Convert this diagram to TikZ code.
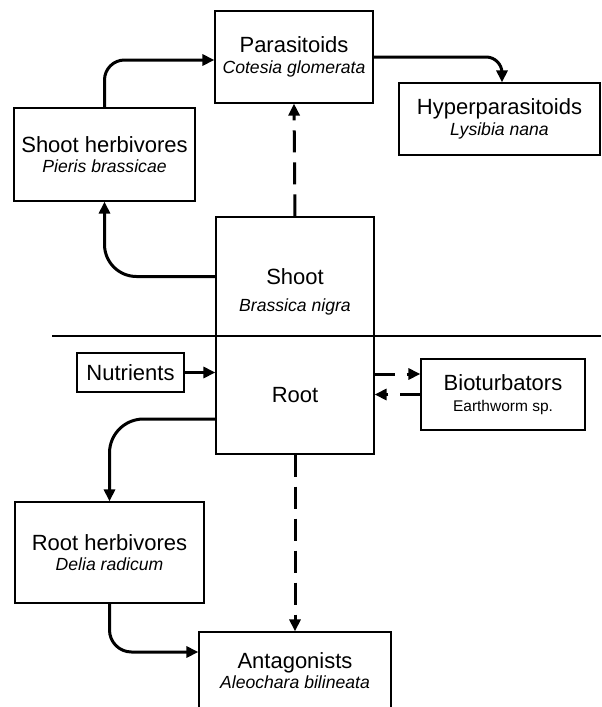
\documentclass[tikz,border=0pt]{standalone}
\usepackage{fontspec}
\setmainfont{Liberation Sans}
\usetikzlibrary{arrows.meta,calc}
\tikzset{
  box/.style   ={draw,line width=0.6pt,align=center,inner sep=0pt,
                 font=\fontsize{11}{10.3}\selectfont},
  plain/.style ={inner sep=0pt,align=center},
  ar/.style    ={-{Triangle[length=6pt,width=5.5pt]},line width=1.5pt},
  dar/.style   ={ar,dash pattern=on 11pt off 5pt},
  sdar/.style  ={ar,dash pattern=on 10pt off 6pt},
  ground/.style={line width=1.3pt},
}
\newcommand{\spc}[1]{{\fontsize{8.8}{10.3}\selectfont\itshape #1}}
\newcommand{\wrm}[1]{{\fontsize{7.75}{10.3}\selectfont #1}}

\begin{document}
\begin{tikzpicture}[x=0.5pt,y=-0.5pt]
\useasboundingbox (0,0) rectangle (601,707);
% above ground
\node[box,minimum width=79pt,minimum height=46pt] (para) at (294,57)
  {Parasitoids\\\spc{Cotesia glomerata}};
\node[box,minimum width=100.5pt,minimum height=36pt] (hyper) at (499.5,119)
  {Hyperparasitoids\\\spc{Lysibia nana}};
\node[box,minimum width=90.5pt,minimum height=46.5pt] (sherb) at (104.5,154.5)
  {Shoot herbivores\\\spc{Pieris brassicae}};
\node[box,minimum width=79pt,minimum height=59.5pt] (shoot) at (295,276.5) {Shoot};
\node[plain] (shootsp) at (295,307) {\spc{Brassica nigra}};
% below ground
\node[box,minimum width=79pt,minimum height=59pt] (root) at (295,395) {Root};
\node[box,minimum width=53.5pt,minimum height=19.5pt] (nutr) at (130.5,372.5) {Nutrients};
\node[box,minimum width=82pt,minimum height=35.5pt] (bio) at (503,394.5)
  {Bioturbators\\\wrm{Earthworm sp.}};
\node[box,minimum width=94.5pt,minimum height=50.5pt] (rherb) at (109.5,552.5)
  {Root herbivores\\\spc{Delia radicum}};
\node[box,minimum width=96pt,minimum height=38.5pt] (antag) at (295,670.5)
  {Antagonists\\\spc{Aleochara bilineata}};
\draw[ground] (52,336) -- (601,336);
% links
\draw[ar,rounded corners=10pt] (sherb.north) |- ($(para.west)+(0,3)$);
\draw[ar,rounded corners=8pt] (para.east) -| ($(hyper.north)+(2.5,0)$);
\draw[ar,rounded corners=16pt] (shoot.west) -| (sherb.south);
\draw[dar] (shoot.north) -- (para.south);
\draw[ar] (nutr.east) -- (nutr.east -| root.west);
\draw[sdar] ($(bio.west)+(0,-20.5)$) coordinate (b1) (b1 -| root.east) -- (b1);
\draw[sdar] (bio.west) -- (bio.west -| root.east);
\draw[ar,rounded corners=17pt] ($(root.west)+(0,24)$) -| (rherb.north);
\draw[ar,rounded corners=11pt] (rherb.south) |- ($(antag.west)+(0,-18.5)$);
\draw[dar] (root.south) -- (antag.north);
\end{tikzpicture}
\end{document}
